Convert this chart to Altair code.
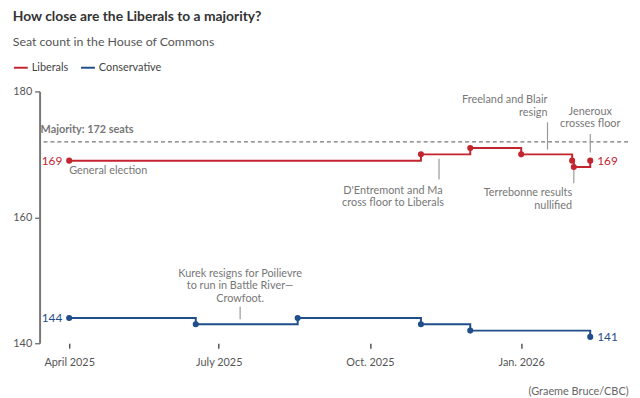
import altair as alt
import pandas as pd

# ---------------- data ----------------
parties = ["Liberals", "Conservative"]
party_colors = ["#c3252f", "#1f4e8a"]

lib_dates = ["2025-04-01", "2025-11-01", "2025-12-01", "2026-01-01", "2026-02-01", "2026-02-02", "2026-02-12"]
lib_seats = [169, 170, 171, 170, 169, 168, 169]

con_dates = ["2025-04-01", "2025-06-17", "2025-08-18", "2025-11-01", "2025-12-01", "2026-02-12"]
con_seats = [144, 143, 144, 143, 142, 141]

majority = 172
x_domain = ["2025-03-14", "2026-03-07"]
y_domain = [140, 180]
y_ticks = [140, 160, 180]
x_tick_dates = ["2025-04-01", "2025-07-01", "2025-10-01", "2026-01-01"]
x_tick_labels = ["April 2025", "July 2025", "Oct. 2025", "Jan. 2026"]

# annotations (anchor of first line in data units: date, seats)
ann_left_text = ["General election"]
ann_left_date = ["2025-04-01"]
ann_left_seats = [167.3]

ann_center_text = ["Kurek resigns for Poilievre\nto run in Battle River—\nCrowfoot.",
                   "D'Entremont and Ma\ncross floor to Liberals",
                   "Jeneroux\ncrosses floor"]
ann_center_date = ["2025-07-14", "2025-10-15", "2026-02-12"]
ann_center_seats = [151.0, 164.2, 176.75]

ann_right_text = ["Freeland and Blair\nresign", "Terrebonne results\nnullified"]
ann_right_date = ["2026-01-17", "2026-02-01"]
ann_right_seats = [178.6, 163.8]

lead_date = ["2025-07-14", "2025-11-12", "2026-01-17", "2026-02-02", "2026-02-12"]
lead_top = [145.8, 169.3, 175.1, 167.8, 173.25]
lead_bottom = [143.8, 166.0, 170.75, 165.4, 170.3]

source = "(Graeme Bruce/CBC)"

# ---------------- tables ----------------
df = pd.DataFrame({
    "party": [parties[0]] * len(lib_dates) + [parties[1]] * len(con_dates),
    "date": pd.to_datetime(lib_dates + con_dates),
    "seats": lib_seats + con_seats,
})
first = df.sort_values("date").groupby("party", as_index=False).first()
last = df.sort_values("date").groupby("party", as_index=False).last()


def ann_df(texts, dates, seats):
    return pd.DataFrame({"text": texts, "date": pd.to_datetime(dates), "seats": seats})


lead_df = pd.DataFrame({"date": pd.to_datetime(lead_date), "top": lead_top, "bottom": lead_bottom})


def dt(s):
    t = pd.Timestamp(s)
    return alt.DateTime(year=t.year, month=t.month, date=t.day)


FONT = "Lato"

label_expr = "".join(
    f"month(datum.value) == {pd.Timestamp(d).month - 1} ? '{l}' : "
    for d, l in zip(x_tick_dates, x_tick_labels)
) + "''"

x_scale = alt.Scale(domain=[dt(x_domain[0]), dt(x_domain[1])])
y_scale = alt.Scale(domain=y_domain, nice=False, zero=False)

x_enc = alt.X(
    "date:T",
    scale=x_scale,
    axis=alt.Axis(
        values=[dt(d) for d in x_tick_dates],
        labelExpr=label_expr,
        domain=False, grid=False,
        tickSize=5, tickWidth=1.5, tickColor="#555",
        labelFontSize=11, labelColor="#555", labelPadding=9, labelFont=FONT,
        title=source, titleAnchor="end", titleAlign="right", titleFontWeight="normal",
        titleFontSize=11, titleColor="#666", titlePadding=18, titleFont=FONT,
    ),
)
y_enc = alt.Y(
    "seats:Q",
    scale=y_scale,
    axis=alt.Axis(
        values=y_ticks, title=None, grid=False,
        domain=True, domainColor="#777", domainWidth=2,
        tickSize=5, tickColor="#777", tickWidth=1.5,
        labelFontSize=11, labelColor="#555", labelPadding=3, labelFont=FONT,
    ),
)
color_scale = alt.Scale(domain=parties, range=party_colors)

lines = alt.Chart(df).mark_line(interpolate="step-after", strokeWidth=2).encode(
    x=x_enc, y=y_enc,
    color=alt.Color("party:N", scale=color_scale, legend=alt.Legend(
        orient="none", legendX=-27, legendY=-32, direction="horizontal", title=None,
        symbolType="stroke", symbolSize=196, symbolStrokeWidth=2,
        labelFontSize=11, labelColor="#444", labelFont=FONT,
        columnPadding=9, labelOffset=3, padding=0,
    )),
    detail="party:N",
)
points = alt.Chart(df).mark_circle(size=38, opacity=1).encode(
    x="date:T", y="seats:Q",
    color=alt.Color("party:N", scale=color_scale, legend=None),
)

start_lbl = alt.Chart(first).mark_text(align="right", baseline="middle", dx=-7, fontSize=12, font=FONT).encode(
    x="date:T", y="seats:Q", text="seats:Q",
    color=alt.Color("party:N", scale=color_scale, legend=None),
)
end_lbl = alt.Chart(last).mark_text(align="left", baseline="middle", dx=7, fontSize=12, font=FONT).encode(
    x="date:T", y="seats:Q", text="seats:Q",
    color=alt.Color("party:N", scale=color_scale, legend=None),
)

maj_df = pd.DataFrame({"seats": [majority], "date": pd.to_datetime([x_domain[0]]),
                       "text": [f"Majority: {majority} seats"]})
maj_rule = alt.Chart(maj_df).mark_rule(strokeDash=[4, 3], color="#777", strokeWidth=1.2).encode(y="seats:Q")
maj_text = alt.Chart(maj_df).mark_text(align="left", baseline="middle", dx=1, dy=-12, fontSize=11,
                                        fontWeight="bold", color="#777", font=FONT).encode(
    x="date:T", y="seats:Q", text="text:N")

leaders = alt.Chart(lead_df).mark_rule(color="#999", strokeWidth=1.2).encode(
    x="date:T", y="top:Q", y2="bottom:Q")


def ann_layer(d, align):
    return alt.Chart(d).mark_text(align=align, baseline="middle", lineBreak="\n", lineHeight=12.5,
                                  fontSize=11, color="#777", font=FONT).encode(
        x="date:T", y="seats:Q", text="text:N")


ann_l = ann_layer(ann_df(ann_left_text, ann_left_date, ann_left_seats), "left")
ann_c = ann_layer(ann_df(ann_center_text, ann_center_date, ann_center_seats), "center")
ann_r = ann_layer(ann_df(ann_right_text, ann_right_date, ann_right_seats), "right")

chart = alt.layer(
    maj_rule, maj_text, leaders, lines, points, start_lbl, end_lbl, ann_l, ann_c, ann_r
).properties(
    width=596, height=255,
    autosize=alt.AutoSizeParams(type="none"),
    padding={"left": 32, "top": 82, "right": 4, "bottom": 53},
    title=alt.Title(
        "How close are the Liberals to a majority?",
        subtitle="Seat count in the House of Commons",
        anchor="start", offset=12,
        fontSize=14, fontWeight="bold", color="#333", font=FONT,
        subtitleFontSize=12.5, subtitleColor="#555", subtitleFont=FONT, subtitlePadding=12,
    ),
).configure_view(stroke=None)

chart.save("out.html", embed_options={"renderer": "svg", "actions": False})
